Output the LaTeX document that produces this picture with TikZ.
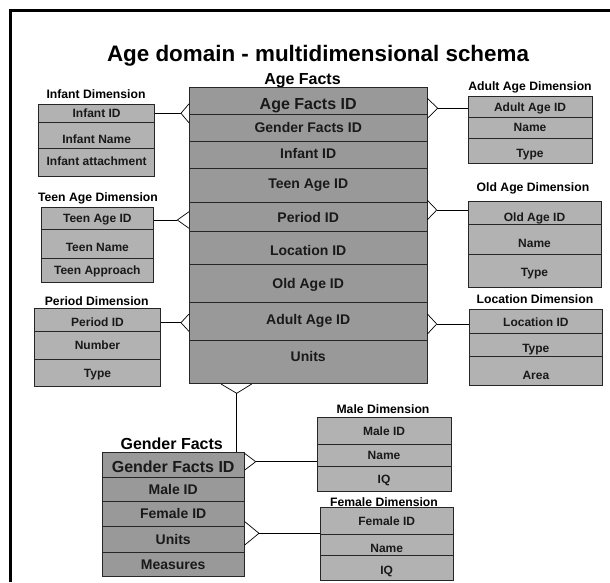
\documentclass[tikz,border=0pt]{standalone}
\usepackage{fontspec}
\setmainfont{Liberation Sans}
\usetikzlibrary{calc}

\tikzset{
  cell/.style={draw=black!85, line width=0.7pt, inner sep=0pt, align=center, text=black!90},
  factcell/.style={cell, fill=black!40, font=\bfseries\fontsize{14}{14}\selectfont, text height=10pt, text depth=0pt},
  keyfact/.style={cell, fill=black!40, font=\bfseries\fontsize{16}{16}\selectfont, text height=11.5pt, text depth=0pt},
  dimcell/.style={cell, fill=black!30, font=\bfseries\fontsize{12}{12}\selectfont, text height=8.7pt, text depth=0pt},
  dimtitle/.style={inner sep=0pt, font=\bfseries\fontsize{12.2}{12}\selectfont, text height=8.7pt, text depth=0pt},
  facttitle/.style={inner sep=0pt, font=\bfseries\fontsize{16}{16}\selectfont, text height=11.5pt, text depth=0pt},
  link/.style={line width=0.7pt, black},
}

% one table row: name, left, top, right, bottom, style, text
\newcommand\tabrow[7]{%
  \node[#6, minimum width=#4pt-#2pt, minimum height=#5pt-#3pt, anchor=north west] (#1) at (#2,#3) {#7};}
% text set lower inside its row (cell boxes have fixed text height/depth)
\newcommand\dn[2]{\raisebox{-#1pt}{#2}}
% crow's foot: apex, box side, half spread
\newcommand\crowfoot[3]{%
  \draw[link] ($(#1 -| #2)+(0,-#3)$) -- (#1) -- ($(#1 -| #2)+(0,#3)$);}

\begin{document}
\begin{tikzpicture}[x=1pt, y=-1pt]
\useasboundingbox (0,0) rectangle (610,582);

% frame
\draw[line width=3pt] (10.5,582) -- (10.5,10.5) -- (610,10.5);

% titles
\node[inner sep=0pt, font=\bfseries\fontsize{22.4}{22}\selectfont, text height=16pt, text depth=0pt] (tMain) at (318,53) {Age domain - multidimensional schema};
\node[facttitle] (tAF) at (302.5,79) {Age Facts};
\node[facttitle] (tGF) at (171.7,443.3) {Gender Facts};
\node[dimtitle] (tInf) at (96,94) {Infant Dimension};
\node[dimtitle] (tTeen) at (98,196.7) {Teen Age Dimension};
\node[dimtitle] (tPer) at (96.7,300.7) {Period Dimension};
\node[dimtitle] (tAdu) at (530,86) {Adult Age Dimension};
\node[dimtitle] (tOld) at (533,186.7) {Old Age Dimension};
\node[dimtitle] (tLoc) at (535,299.3) {Location Dimension};
\node[dimtitle] (tMale) at (383,409.3) {Male Dimension};
\node[dimtitle] (tFem) at (384,501.7) {Female Dimension};

% Age Facts table
\tabrow{af1}{189}{87.3}{426.7}{114}{keyfact}{\dn{3}{Age Facts ID}}
\tabrow{af2}{189}{114}{426.7}{141}{factcell}{Gender Facts ID}
\tabrow{af3}{189}{141}{426.7}{168.3}{factcell}{\dn{-1.7}{Infant ID}}
\tabrow{af4}{189}{168.3}{426.7}{202.3}{factcell}{\dn{-2.5}{Teen Age ID}}
\tabrow{af5}{189}{202.3}{426.7}{231}{factcell}{Period ID}
\tabrow{af6}{189}{231}{426.7}{264}{factcell}{\dn{2.5}{Location ID}}
\tabrow{af7}{189}{264}{426.7}{302.3}{factcell}{Old Age ID}
\tabrow{af8}{189}{302.3}{426.7}{340}{factcell}{\dn{-2.3}{Adult Age ID}}
\tabrow{af9}{189}{340}{426.7}{383.3}{factcell}{\dn{-6}{Units}}

% Gender Facts table
\tabrow{gf1}{101.7}{451.7}{244}{477}{keyfact}{\dn{2}{Gender Facts ID}}
\tabrow{gf2}{101.7}{477}{244}{501.3}{factcell}{Male ID}
\tabrow{gf3}{101.7}{501.3}{244}{525.7}{factcell}{Female ID}
\tabrow{gf4}{101.7}{525.7}{244}{552.3}{factcell}{Units}
\tabrow{gf5}{101.7}{552.3}{244}{575.7}{factcell}{Measures}

% dimensions, left column
\tabrow{in1}{38.3}{104}{154.3}{121.7}{dimcell}{Infant ID}
\tabrow{in2}{38.3}{121.7}{154.3}{148.3}{dimcell}{\dn{4}{Infant Name}}
\tabrow{in3}{38.3}{148.3}{154.3}{175.7}{dimcell}{\dn{-1.5}{Infant attachment}}

\tabrow{te1}{40.7}{206.7}{153.3}{229.3}{dimcell}{Teen Age ID}
\tabrow{te2}{40.7}{229.3}{153.3}{258.3}{dimcell}{\dn{3}{Teen Name}}
\tabrow{te3}{40.7}{258.3}{153.3}{282}{dimcell}{Teen Approach}

\tabrow{pe1}{34.3}{308.3}{160}{330.7}{dimcell}{\dn{2}{Period ID}}
\tabrow{pe2}{34.3}{330.7}{160}{359.3}{dimcell}{Number}
\tabrow{pe3}{34.3}{359.3}{160}{386}{dimcell}{Type}

% dimensions, right column
\tabrow{ad1}{467.7}{96}{591.7}{116.7}{dimcell}{Adult Age ID}
\tabrow{ad2}{467.7}{116.7}{591.7}{137.7}{dimcell}{Name}
\tabrow{ad3}{467.7}{137.7}{591.7}{163.3}{dimcell}{\dn{2}{Type}}

\tabrow{ol1}{467.7}{201}{600.7}{224.3}{dimcell}{\dn{4}{Old Age ID}}
\tabrow{ol2}{467.7}{224.3}{600.7}{254}{dimcell}{\dn{3.5}{Name}}
\tabrow{ol3}{467.7}{254}{600.7}{287.3}{dimcell}{\dn{1.5}{Type}}

\tabrow{lo1}{469.3}{309.3}{601.7}{333.3}{dimcell}{Location ID}
\tabrow{lo2}{469.3}{333.3}{601.7}{356}{dimcell}{\dn{3}{Type}}
\tabrow{lo3}{469.3}{356}{601.7}{385}{dimcell}{\dn{4}{Area}}

% gender dimensions
\tabrow{ma1}{316.7}{417.3}{450.7}{444}{dimcell}{Male ID}
\tabrow{ma2}{316.7}{444}{450.7}{466}{dimcell}{Name}
\tabrow{ma3}{316.7}{466}{450.7}{490.7}{dimcell}{IQ}

\tabrow{fe1}{320}{507.3}{452.7}{534}{dimcell}{Female ID}
\tabrow{fe2}{320}{534}{452.7}{555}{dimcell}{\dn{3}{Name}}
\tabrow{fe3}{320}{555}{452.7}{580}{dimcell}{\dn{2.5}{IQ}}

% crow's-foot apexes
\coordinate (cInf)  at (181,113.3);
\coordinate (cTeen) at (177.3,220);
\coordinate (cPer)  at (181,322.7);
\coordinate (cAdu)  at (437.7,108.3);
\coordinate (cOld)  at (436.7,210);
\coordinate (cLoc)  at (436.7,324);
\coordinate (cBot)  at (236.7,393.3);
\coordinate (cMale) at (255.7,461.7);
\coordinate (cFem)  at (259,533.3);

% relationships
\draw[link] (cInf -| in1.east) -- (cInf);
\crowfoot{cInf}{af1.west}{9.5}
\draw[link] (cTeen -| te1.east) -- (cTeen);
\crowfoot{cTeen}{af5.west}{8.3}
\draw[link] (cPer -| pe1.east) -- (cPer);
\crowfoot{cPer}{af8.west}{8.7}

\draw[link] (cAdu) -- (cAdu -| ad1.west);
\crowfoot{cAdu}{af1.east}{10}
\draw[link] (cOld) -- (cOld -| ol1.west);
\crowfoot{cOld}{af5.east}{9.7}
\draw[link] (cLoc) -- (cLoc -| lo1.west);
\crowfoot{cLoc}{af8.east}{10}

\draw[link] (cBot) -- (cBot |- gf1.north);
\draw[link] ($(cBot |- af9.south)+(-15.7,0)$) -- (cBot) -- ($(cBot |- af9.south)+(15,0)$);

\draw[link] (cMale) -- (cMale -| ma2.west);
\crowfoot{cMale}{gf1.east}{8.3}
\draw[link] (cFem) -- (cFem -| fe1.west);
\crowfoot{cFem}{gf4.east}{11.7}
\end{tikzpicture}
\end{document}
